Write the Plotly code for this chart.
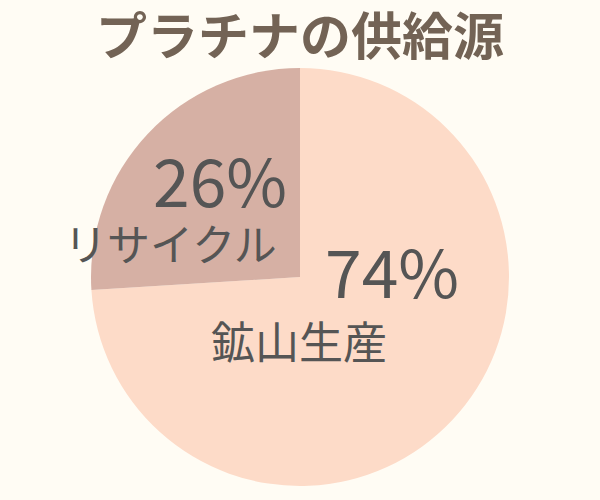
import plotly.graph_objects as go

labels = ["鉱山生産", "リサイクル"]
values = [74, 26]
colors = ["#FDDBC8", "#D6B0A4"]

fig = go.Figure(go.Pie(
    labels=labels, values=values, sort=False, direction="clockwise", rotation=0,
    marker=dict(colors=colors, line=dict(width=0)),
    textinfo="none", hoverinfo="label+percent", showlegend=False,
    domain=dict(x=[91/600, 509/600], y=[14/500, 432/500]),
))

font = "Noto Sans CJK JP"
tc = "#555555"
anns = [
    (f"{values[1]}%", 220, 178, 66),
    (labels[1], 170, 242, 43),
    (f"{values[0]}%", 392, 269, 66),
    (labels[0], 299, 340, 44),
]
for txt, x, y, sz in anns:
    fig.add_annotation(text=txt, x=x/600, y=1 - y/500, xref="paper", yref="paper",
                       xanchor="center", yanchor="middle",
                       showarrow=False, font=dict(family=font, size=sz, color=tc))

fig.update_layout(
    width=600, height=500, margin=dict(l=0, r=0, t=0, b=0),
    paper_bgcolor="#FFFCF4", plot_bgcolor="#FFFCF4",
    title=dict(text="<b>プラチナの供給源</b>", x=0.5, y=1 - 37/500, xanchor="center", yanchor="middle",
               font=dict(family=font, size=51, color="#736355")),
)
fig.write_html("out.html", config={"displayModeBar": False},
               post_script="document.body.style.margin='0';")
